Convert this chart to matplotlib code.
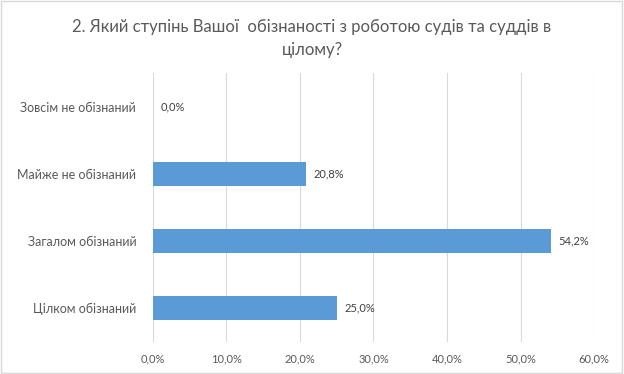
import matplotlib
matplotlib.use("Agg")
import matplotlib.pyplot as plt
from matplotlib.ticker import FuncFormatter

plt.rcParams['font.family'] = ['Lato', 'DejaVu Sans']

# data, top to bottom as in the chart
categories = ["Зовсім не обізнаний", "Майже не обізнаний", "Загалом обізнаний", "Цілком обізнаний"]
values = [0.0, 20.8, 54.2, 25.0]
title = "2. Який ступінь Вашої  обізнаності з роботою судів та суддів в\nцілому?"

text_col = "#595959"
grid_col = "#D9D9D9"
bar_col = "#5B9BD5"

fig = plt.figure(figsize=(6.24, 3.74), dpi=100)
fig.patch.set_facecolor("white")
ax = fig.add_axes([0.245, 0.086, 0.707, 0.718])

pos = list(range(len(categories)))
ax.barh(pos, values, height=0.36, color=bar_col, zorder=3)
ax.invert_yaxis()
ax.set_ylim(3.5, -0.5)
ax.set_xlim(0, 60)
ax.set_xticks(range(0, 61, 10))
ax.xaxis.set_major_formatter(FuncFormatter(lambda v, p: f"{v:.1f}%".replace(".", ",")))
ax.set_yticks(pos)
ax.set_yticklabels(categories)
ax.tick_params(axis="both", length=0, colors=text_col)
ax.tick_params(axis="x", labelsize=8, pad=8)
ax.tick_params(axis="y", labelsize=9, pad=12)
ax.grid(axis="x", color=grid_col, linewidth=0.8, zorder=0)
for s in ax.spines.values():
    s.set_visible(False)

for p, v in zip(pos, values):
    ax.text(v + 1.0, p, f"{v:.1f}%".replace(".", ","), va="center", ha="left",
            fontsize=8, color="#404040", zorder=4)

fig.text(0.5, 0.948, title, ha="center", va="top", fontsize=12, color=text_col,
         linespacing=1.5)

# chart border
fig.add_artist(plt.Rectangle((0.002, 0.003), 0.995, 0.994, transform=fig.transFigure,
                             fill=False, edgecolor=grid_col, linewidth=1))

fig.savefig("out.png", dpi=100, facecolor="white")
